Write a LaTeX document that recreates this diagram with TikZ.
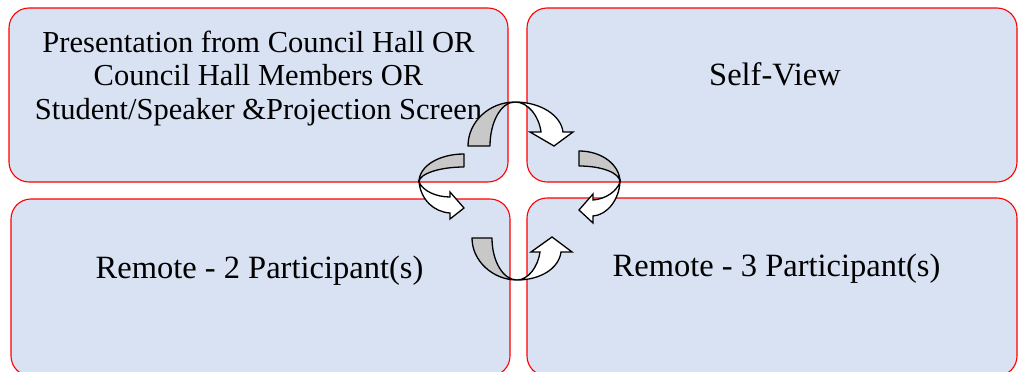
\documentclass[tikz,border=0pt]{standalone}
\usepackage{fontspec}
\setmainfont{Liberation Serif}
\usepackage{xcolor}
\definecolor{panelblue}{RGB}{217,226,243}
\definecolor{bandgray}{RGB}{200,200,200}

\begin{document}
\begin{tikzpicture}[x=1pt, y=-1pt,
    panel/.style={rectangle, draw=red, line width=1.1pt, fill=panelblue, rounded corners=20pt, inner sep=0pt},
    paneltext/.style={font=\fontsize{32.5}{34}\selectfont, align=center, inner sep=0pt},
    bandback/.style={draw=black, line width=1.3pt, fill=bandgray, line join=round},
    bandfront/.style={draw=black, line width=1.3pt, fill=white}]
  \useasboundingbox (0,0) rectangle (1018,372);
  \clip (0,0) rectangle (1018,372);

  \node[panel, minimum width=499pt, minimum height=174pt] (hall) at (258.5,95) {};
  \node[panel, minimum width=490pt, minimum height=174pt] (self) at (772,95) {};
  \node[panel, minimum width=499pt, minimum height=177pt] (remtwo) at (260.5,287.5) {};
  \node[panel, minimum width=490pt, minimum height=178pt] (remthree) at (772,287) {};

  \node[paneltext, font=\fontsize{30.5}{33.5}\selectfont, anchor=base] (halltext) at (258.5,119) {Presentation from Council Hall OR\\ Council Hall Members OR\\ Student/Speaker \&Projection Screen};
  \node[paneltext, anchor=base] (selftext) at (775,85) {Self-View};
  \node[paneltext, anchor=base] (remtwotext) at (259.5,278) {Remote - 2 Participant(s)};
  \node[paneltext, anchor=base] (remthreetext) at (776.5,276) {Remote - 3 Participant(s)};

  % top
  \draw[bandback] (468,146) -- (490,146) .. controls (490,122) and (501,102) .. (515,102) .. controls (489,102) and (468,122) .. (468,146) -- cycle;
  \draw[bandfront] (515,102) .. controls (540,102) and (561,115) .. (563,132) -- (573,132) -- (554,146) -- (530,132) -- (541,132) .. controls (539,116) and (528,102) .. (515,102) -- cycle;
  % left
  \draw[bandback] (464,154) -- (464,167) .. controls (439,167) and (419,174) .. (419,182) .. controls (419,166) and (439,154) .. (464,154) -- cycle;
  \draw[bandfront] (419,182) .. controls (423,191) and (436,197) .. (450,197) -- (450,192) -- (464,208) -- (450,219) -- (450,213) .. controls (434,212) and (421,200) .. (419,182) -- cycle;
  % right
  \draw[bandback] (579,151) -- (579,166) .. controls (602,166) and (620,173) .. (620,182) .. controls (620,165) and (602,151) .. (579,151) -- cycle;
  \draw[bandfront] (620,182) .. controls (617,191) and (606,199) .. (593,200) -- (593,194) -- (579,210) -- (593,223) -- (593,216) .. controls (607,215) and (619,200) .. (620,182) -- cycle;
  % bottom
  \draw[bandback] (472,238) -- (492,238) .. controls (492,261) and (503,280) .. (517,280) .. controls (493,280) and (472,261) .. (472,238) -- cycle;
  \draw[bandfront] (517,280) .. controls (541,280) and (559,268) .. (561,252) -- (572,252) -- (552,237) -- (531,252) -- (540,252) .. controls (538,267) and (528,280) .. (517,280) -- cycle;
\end{tikzpicture}
\end{document}
